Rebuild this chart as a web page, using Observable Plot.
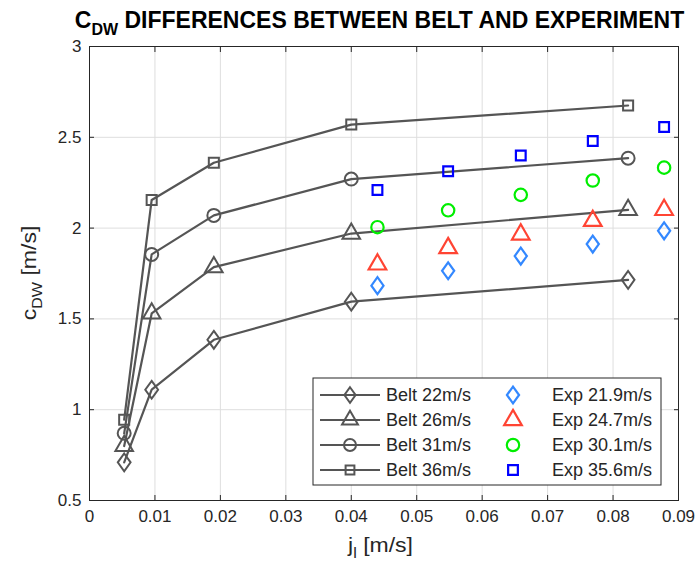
<!DOCTYPE html>
<html>
<head>
<meta charset="utf-8">
<script src="https://cdn.jsdelivr.net/npm/d3@7"></script>
<script src="https://cdn.jsdelivr.net/npm/@observablehq/plot@0.6"></script>
<style>
  body { margin: 0; background: #fff; }
  svg text { font-family: "Liberation Sans", Arial, Helvetica, sans-serif; }
</style>
</head>
<body>
<div id="chart"></div>
<script>
// ---- data ----
const beltX = [0.0053, 0.0095, 0.019, 0.040, 0.0823];
const belt22 = [0.71, 1.11, 1.385, 1.595, 1.715];
const belt26 = [0.80, 1.53, 1.785, 1.97, 2.10];
const belt31 = [0.87, 1.855, 2.07, 2.27, 2.385];
const belt36 = [0.945, 2.155, 2.36, 2.57, 2.675];

const expX = [0.044, 0.0548, 0.0659, 0.0769, 0.0878];
const exp219 = [1.683, 1.765, 1.846, 1.912, 1.985];
const exp247 = [1.80, 1.89, 1.965, 2.04, 2.10];
const exp301 = [2.005, 2.098, 2.183, 2.262, 2.333];
const exp356 = [2.21, 2.313, 2.40, 2.48, 2.557];

const xTicks = [0, 0.01, 0.02, 0.03, 0.04, 0.05, 0.06, 0.07, 0.08, 0.09];
const yTicks = [0.5, 1, 1.5, 2, 2.5, 3];

const beltNames = ["Belt 22m/s", "Belt 26m/s", "Belt 31m/s", "Belt 36m/s"];
const expNames = ["Exp 21.9m/s", "Exp 24.7m/s", "Exp 30.1m/s", "Exp 35.6m/s"];

// ---- symbols (MATLAB-like) ----
const matDiamond = {
  draw(ctx, size) {
    const r = Math.sqrt(size) * 0.62625;
    ctx.moveTo(0, -r); ctx.lineTo(r * 0.72, 0); ctx.lineTo(0, r); ctx.lineTo(-r * 0.72, 0); ctx.closePath();
  }
};
const matTriangle = {
  draw(ctx, size) {
    const s = Math.sqrt(size) * 0.6824, t = s / 2, u = s * Math.sqrt(3) / 2;
    ctx.moveTo(0, -s); ctx.lineTo(u, t); ctx.lineTo(-u, t); ctx.closePath();
  }
};
const matSquare = {
  draw(ctx, size) {
    const r = Math.sqrt(size) * 0.4431;
    ctx.rect(-r, -r, 2 * r, 2 * r);
  }
};
const matCircle = {
  draw(ctx, size) {
    const r = Math.sqrt(size / Math.PI);
    ctx.moveTo(r, 0); ctx.arc(0, 0, r, 0, 2 * Math.PI);
  }
};

const beltGray = "#555555";
const symbols = [matDiamond, matTriangle, matCircle, matSquare];
const beltR = [8, 8.4, 6.5, 6.4];
const expR = [7.6, 8.4, 6.2, 6.2];
const legBeltR = [7, 7.6, 6, 5.6];
const expColors = ["#3388ff", "#ff4433", "#00ee00", "#0000ff"];

const beltSeries = [belt22, belt26, belt31, belt36].map((ys, i) =>
  ys.map((y, j) => ({x: beltX[j], y, s: i})));
const expSeries = [exp219, exp247, exp301, exp356].map((ys, i) =>
  ys.map((y, j) => ({x: expX[j], y, s: i})));

const W = 700, H = 576;
const mL = 89, mR = 22, mT = 46, mB = 76;
const tickFont = 17;

const marks = [
  Plot.gridX(xTicks, {stroke: "#dedede", strokeOpacity: 1}),
  Plot.gridY(yTicks, {stroke: "#dedede", strokeOpacity: 1}),
  Plot.axisX(xTicks, {tickSize: 0, tickPadding: 9, tickFormat: d => String(d), fontSize: tickFont, fill: "#262626", label: null}),
  Plot.axisY(yTicks, {tickSize: 0, tickPadding: 8, tickFormat: d => String(d), fontSize: tickFont, fill: "#262626", label: null}),
  Plot.axisX(xTicks, {anchor: "bottom", tickSize: -5, text: null, stroke: "#262626", label: null}),
  Plot.axisX(xTicks, {anchor: "top", tickSize: -5, text: null, stroke: "#262626", label: null}),
  Plot.axisY(yTicks, {anchor: "left", tickSize: -5, text: null, stroke: "#262626", label: null}),
  Plot.axisY(yTicks, {anchor: "right", tickSize: -5, text: null, stroke: "#262626", label: null}),
];
beltSeries.forEach((data, i) => {
  marks.push(Plot.line(data, {x: "x", y: "y", stroke: beltGray, strokeWidth: 2.2}));
  marks.push(Plot.dot(data, {x: "x", y: "y", symbol: () => symbols[i], r: beltR[i], stroke: beltGray, strokeWidth: 2, fill: "none"}));
});
expSeries.forEach((data, i) => {
  marks.push(Plot.dot(data, {x: "x", y: "y", symbol: () => symbols[i], r: expR[i], stroke: expColors[i], strokeWidth: 2.2, fill: "none"}));
});
marks.push(Plot.frame({stroke: "#262626", strokeWidth: 1}));

const chart = Plot.plot({
  width: W, height: H,
  marginLeft: mL, marginRight: mR, marginTop: mT, marginBottom: mB,
  style: {background: "#fff", fontFamily: "Liberation Sans, Arial, sans-serif"},
  x: {domain: [0, 0.09], type: "linear"},
  y: {domain: [0.5, 3], type: "linear"},
  symbol: {type: "identity"},
  marks
});
document.getElementById("chart").appendChild(chart);

// ---- titles and labels ----
const svg = d3.select(chart);
const cx = mL + (W - mL - mR) / 2;

const title = svg.append("text")
  .attr("x", cx - 4).attr("y", 28)
  .attr("text-anchor", "middle")
  .attr("font-size", 23).attr("font-weight", "bold").attr("fill", "#000");
title.append("tspan").text("C");
title.append("tspan").attr("font-size", 16).attr("dy", 7).text("DW");
title.append("tspan").attr("dy", -7).text(" DIFFERENCES BETWEEN BELT AND EXPERIMENT");

const xl = svg.append("text")
  .attr("transform", `translate(${cx - 3}, 552) scale(1.15,1)`)
  .attr("text-anchor", "middle").attr("font-size", 20).attr("fill", "#262626");
xl.append("tspan").text("j");
xl.append("tspan").attr("font-size", 14).attr("dy", 6).text("l");
xl.append("tspan").attr("dy", -6).text(" [m/s]");

const yl = svg.append("text")
  .attr("transform", `translate(36, ${mT + (H - mT - mB) / 2}) rotate(-90) scale(1.15,1)`)
  .attr("text-anchor", "middle").attr("font-size", 20).attr("fill", "#262626");
yl.append("tspan").text("c");
yl.append("tspan").attr("font-size", 14).attr("dy", 6).text("DW");
yl.append("tspan").attr("dy", -6).text(" [m/s]");

// ---- legend ----
const lg = svg.append("g").attr("text-anchor", "start");
const lx = 313, ly = 378, lw = 348, lh = 107;
lg.append("rect").attr("x", lx).attr("y", ly).attr("width", lw).attr("height", lh)
  .attr("fill", "#fff").attr("stroke", "#262626").attr("stroke-width", 1);
const rowY = [395, 420, 445, 470];
beltNames.forEach((name, i) => {
  const y = rowY[i];
  lg.append("line").attr("x1", lx + 7).attr("x2", lx + 67).attr("y1", y).attr("y2", y)
    .attr("stroke", beltGray).attr("stroke-width", 2.2);
  lg.append("path").attr("transform", `translate(${lx + 37},${y})`)
    .attr("d", d3.symbol(symbols[i], Math.PI * legBeltR[i] * legBeltR[i])())
    .attr("fill", "none").attr("stroke", beltGray).attr("stroke-width", 2);
  lg.append("text").attr("x", lx + 73).attr("y", y).attr("dy", "0.35em")
    .attr("text-anchor", "start")
    .attr("font-size", 18).attr("fill", "#262626").text(name);
});
expNames.forEach((name, i) => {
  const y = rowY[i];
  lg.append("path").attr("transform", `translate(${lx + 200},${y})`)
    .attr("d", d3.symbol(symbols[i], Math.PI * expR[i] * expR[i])())
    .attr("fill", "none").attr("stroke", expColors[i]).attr("stroke-width", 2.2);
  lg.append("text").attr("x", lx + 239).attr("y", y).attr("dy", "0.35em")
    .attr("text-anchor", "start")
    .attr("font-size", 18).attr("fill", "#262626").text(name);
});
</script>
</body>
</html>
